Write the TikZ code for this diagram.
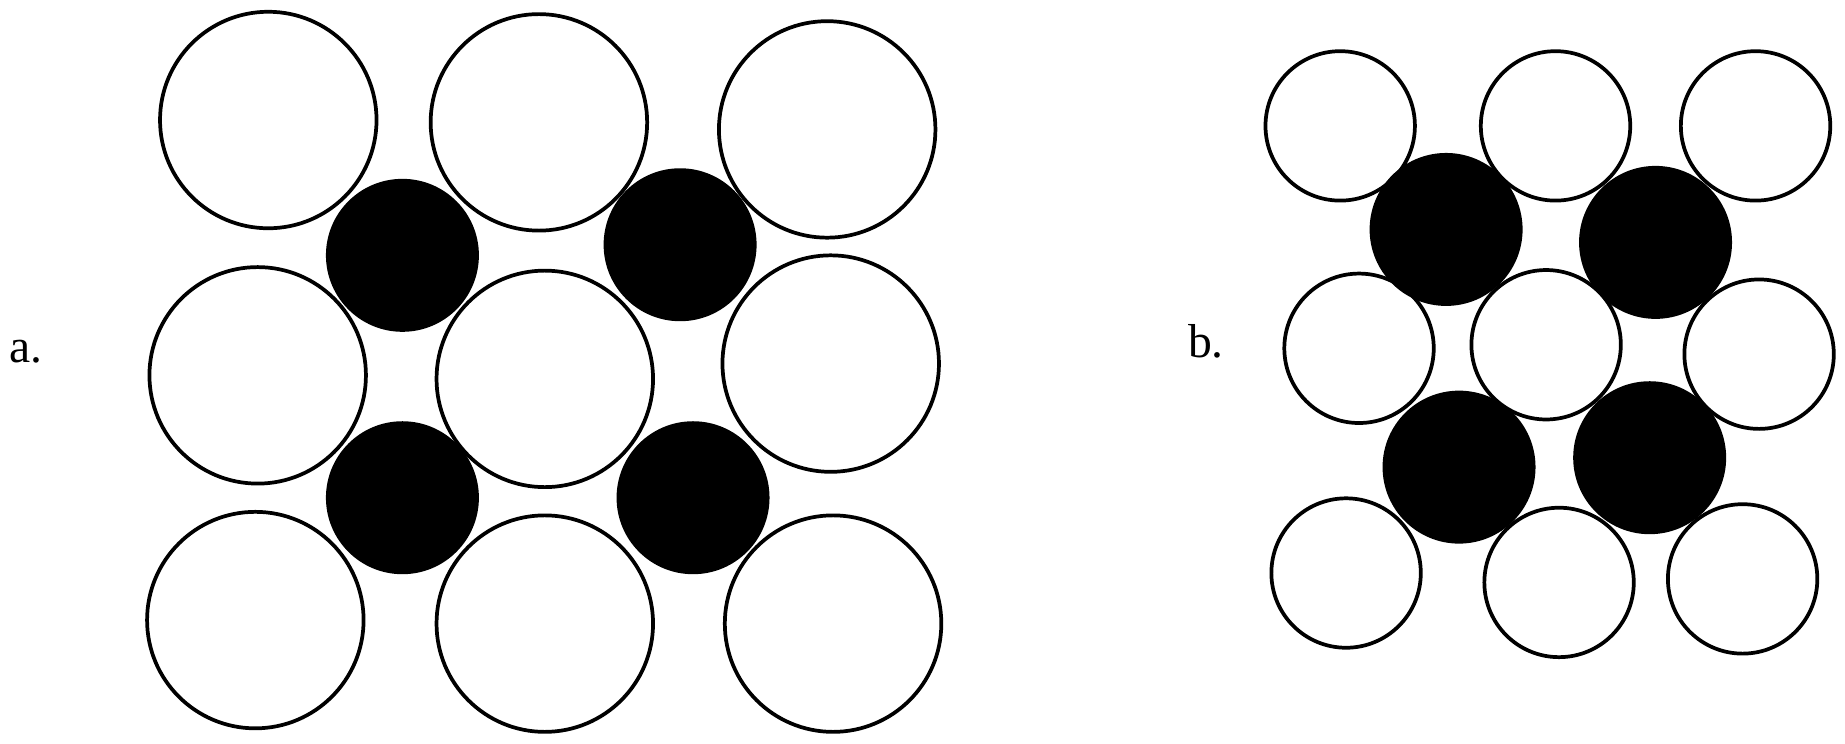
\documentclass[tikz,border=0pt]{standalone}
\usepackage{fontspec}
\setmainfont{Liberation Serif}
\begin{document}
\begin{tikzpicture}[x=0.01cm,y=-0.01cm,
  hollow/.style={draw=black,line width=0.9pt},
  solid/.style={fill=black},
  lbl/.style={font=\fontsize{11.5}{13}\selectfont,inner sep=0pt,anchor=base west}]
\useasboundingbox (0,0) rectangle (1568,632.3);
% panel a: white circles
\foreach \x/\y in {228/102,458/104,703/110,219/319,463/322,706/309,217/527,463/530,708/530}
  \draw[hollow] (\x,\y) circle[radius=92];
% panel a: black circles
\foreach \x/\y in {342/217,578/208,342/423,589/423}
  \fill[solid] (\x,\y) circle[radius=65];
% panel b: white circles
\foreach \x/\y in {1139/107,1322/107,1492/107,1155/296,1314/293,1495/301,1144/487,1325/495,1481/492}
  \draw[hollow] (\x,\y) circle[radius=63.5];
% panel b: black circles
\foreach \x/\y in {1229/195,1407/206,1240/397,1402/389}
  \fill[solid] (\x,\y) circle[radius=65];
\node[lbl] (la) at (7,308.5) {a.};
\node[lbl] (lb) at (1009,304) {b.};
\end{tikzpicture}
\end{document}
